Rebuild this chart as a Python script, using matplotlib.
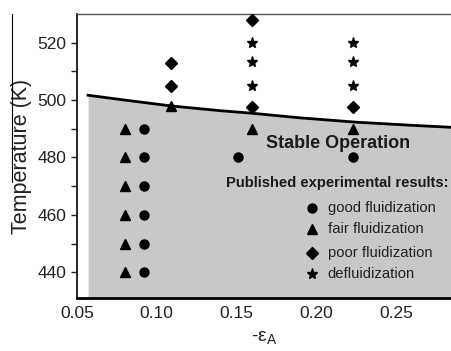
import numpy as np
from matplotlib import pyplot as plt
from matplotlib.lines import Line2D

plt.rcParams['font.family'] = ['Liberation Sans', 'DejaVu Sans']

# stability boundary
curve_x = [0.057, 0.08, 0.11, 0.14, 0.16, 0.19, 0.225, 0.26, 0.285]
curve_y = [501.7, 500.0, 497.9, 496.3, 495.4, 493.8, 492.3, 491.2, 490.5]

# published experimental results
good_x = [0.092, 0.092, 0.092, 0.092, 0.092, 0.092, 0.151, 0.223]
good_y = [440, 450, 460, 470, 480, 490, 480, 480]
fair_x = [0.08, 0.08, 0.08, 0.08, 0.08, 0.08, 0.109, 0.16, 0.223]
fair_y = [440, 450, 460, 470, 480, 490, 497.8, 490, 490]
poor_x = [0.109, 0.109, 0.16, 0.16, 0.223]
poor_y = [505, 513, 528, 497.6, 497.6]
defl_x = [0.16, 0.16, 0.16, 0.223, 0.223, 0.223]
defl_y = [520, 513.3, 505, 520, 513.3, 505]

legend_labels = ["good fluidization", "fair fluidization",
                 "poor fluidization", "defluidization"]
legend_markers = ["o", "^", "D", "*"]
legend_sizes = [6.5, 7.5, 6, 8]

fig = plt.figure(figsize=(4.52, 3.51), dpi=100)
ax = fig.add_axes([0.170, 0.151, 0.830, 0.809])

ax.fill_between(curve_x, curve_y, 431, color="#c8c8c8", lw=0, zorder=1)
ax.plot(curve_x, curve_y, color="black", lw=2, zorder=2)

ax.plot(good_x, good_y, "o", color="black", ms=6.5, zorder=3)
ax.plot(fair_x, fair_y, "^", color="black", ms=7.5, zorder=3)
ax.plot(poor_x, poor_y, "D", color="black", ms=6, zorder=3)
ax.plot(defl_x, defl_y, "*", color="black", ms=8, zorder=3)

ax.text(0.2135, 485, "Stable Operation", fontsize=13, fontweight="bold",
        ha="center", va="center", color="#1a1a1a", zorder=4)
ax.text(0.99, 0.405, "Published experimental results:", transform=ax.transAxes,
        fontsize=10.6, fontweight="bold", ha="right", va="center",
        color="#1a1a1a")
rows = [0.317, 0.243, 0.158, 0.085]
for lab, m, s, r in zip(legend_labels, legend_markers, legend_sizes, rows):
    ax.plot([0.627], [r], m, color="black", ms=s, transform=ax.transAxes,
            clip_on=False)
    ax.text(0.669, r, lab, transform=ax.transAxes, fontsize=10.7,
            ha="left", va="center", color="#222222")

ax.set_xlim(0.05, 0.285)
ax.set_ylim(431, 530)
ax.set_xticks([0.05, 0.10, 0.15, 0.20, 0.25])
ax.set_xticklabels(["0.05", "0.10", "0.15", "0.20", "0.25"])
ax.set_yticks([440, 460, 480, 500, 520])
ax.set_yticks([450, 470, 490, 510], minor=True)
ax.tick_params(axis="x", length=0, labelsize=12.5, pad=6, colors="#222222")
ax.tick_params(axis="y", which="both", length=4, width=1, labelsize=12.5,
               direction="out", colors="#222222")

ax.spines["right"].set_visible(False)
ax.spines["top"].set_color("#555555")
ax.spines["top"].set_linewidth(1)
ax.spines["left"].set_linewidth(1.2)
ax.spines["bottom"].set_linewidth(2)

ax.set_ylabel("Temperature (K)", fontsize=15.5, labelpad=4, color="#222222")
ax.set_xlabel(r"-ε$_\mathregular{A}$", fontsize=14, labelpad=6,
              color="#222222")

# thin stray line left of the y label
fig.add_artist(Line2D([12 / 452, 12 / 452], [1 - 14 / 351, 1 - 182 / 351],
                      color="black", lw=0.8))

fig.savefig("out.png", dpi=100)
